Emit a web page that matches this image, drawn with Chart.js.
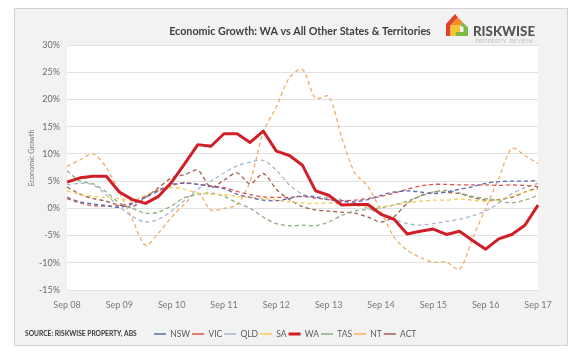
<!DOCTYPE html>
<html>
<head>
<meta charset="utf-8">
<script src="https://cdn.jsdelivr.net/npm/chart.js@4.4.1/dist/chart.umd.min.js"></script>
<style>
  html, body { margin: 0; padding: 0; background: #fff; }
  #wrap { width: 580px; height: 352px; }
</style>
</head>
<body>
<div id="wrap"><canvas id="chart" width="580" height="352"></canvas></div>
<script>
// quarterly, Sep 08 .. Sep 17
const QUARTERS = [
  'Sep 08','Dec 08','Mar 09','Jun 09','Sep 09','Dec 09','Mar 10','Jun 10',
  'Sep 10','Dec 10','Mar 11','Jun 11','Sep 11','Dec 11','Mar 12','Jun 12',
  'Sep 12','Dec 12','Mar 13','Jun 13','Sep 13','Dec 13','Mar 14','Jun 14',
  'Sep 14','Dec 14','Mar 15','Jun 15','Sep 15','Dec 15','Mar 16','Jun 16',
  'Sep 16','Dec 16','Mar 17','Jun 17','Sep 17'
];
const Y_MIN = -15, Y_MAX = 30, Y_STEP = 5;

const NSW = [2.0,1.2,0.8,0.5,0.2,0.8,2.0,3.2,4.4,4.6,4.4,4.0,3.6,2.6,2.0,1.5,1.4,1.8,2.3,2.0,1.6,1.3,1.2,1.6,2.4,3.0,3.2,3.0,2.7,3.0,3.5,4.0,4.6,4.9,5.0,5.0,5.1];
const VIC = [1.8,1.0,0.5,0.4,0.5,1.0,2.2,3.4,4.2,4.7,4.4,4.1,3.8,3.1,2.5,2.1,2.0,2.0,2.2,1.9,1.6,1.4,1.5,1.8,2.2,2.8,3.5,4.1,4.4,4.4,4.3,4.3,4.3,4.2,4.3,4.2,4.0];
const QLD = [4.3,4.6,4.3,2.5,0.3,-1.5,-2.5,-2.0,-0.5,1.5,3.5,5.0,6.5,7.8,8.5,8.8,7.0,4.3,2.6,2.2,2.0,1.6,1.0,0.0,-1.0,-2.0,-2.8,-3.1,-2.8,-2.4,-2.0,-1.4,-0.5,1.0,2.7,3.8,4.6];
const SA  = [3.2,2.5,2.2,2.0,1.8,1.4,2.4,3.2,3.8,3.5,2.8,2.6,2.5,2.2,2.0,1.8,1.5,1.2,1.0,0.9,1.0,0.8,0.5,0.3,0.3,0.6,1.0,1.3,1.5,1.5,1.7,1.5,1.3,1.5,2.2,3.0,3.5];
const WA  = [4.8,5.6,5.9,5.9,3.0,1.6,0.9,2.2,4.8,8.2,11.7,11.4,13.7,13.7,12.1,14.2,10.5,9.7,7.9,3.2,2.4,0.6,0.7,0.7,-1.1,-2.0,-4.7,-4.2,-3.8,-4.8,-4.2,-5.9,-7.5,-5.6,-4.8,-3.1,0.6];
const TAS = [6.9,5.0,4.5,3.0,1.0,0.0,-0.9,-0.7,0.5,2.0,2.6,2.8,2.2,1.0,0.0,-1.6,-2.8,-3.2,-3.1,-3.2,-2.5,-1.3,-0.5,-0.2,0.1,0.6,1.3,2.2,3.0,3.3,2.8,2.2,1.8,1.4,1.0,1.5,2.4];
const NT  = [7.7,8.9,10.0,7.5,3.0,-2.0,-6.8,-4.5,-1.6,0.8,2.8,-0.3,0.0,0.7,5.0,14.0,18.6,24.0,25.5,20.2,20.6,13.0,6.5,4.0,-0.5,-5.3,-7.7,-9.0,-9.9,-9.9,-11.2,-5.5,0.0,5.5,11.0,9.7,8.2];
const ACT = [3.9,2.6,1.8,1.3,0.6,0.3,2.0,3.8,5.6,6.2,7.0,3.9,5.2,6.5,4.5,6.4,3.5,1.6,0.3,-0.3,-0.5,-0.7,-0.9,-1.6,-2.5,-1.5,0.9,2.3,3.0,2.9,2.7,2.0,1.5,1.6,2.0,3.0,3.8];

const FONT = 'Lato, "Open Sans", sans-serif';
Chart.defaults.font.family = FONT;

function dashed(label, data, color) {
  return {
    label: label, data: data, borderColor: color, backgroundColor: color,
    borderWidth: 1.3, borderDash: [4, 3], pointRadius: 0, pointStyle: 'line',
    tension: 0.3, fill: false
  };
}

// fit a text to a target width
function fitFont(ctx, text, width, weight) {
  ctx.font = weight + ' 20px ' + FONT;
  const size = 20 * width / ctx.measureText(text).width;
  return weight + ' ' + size.toFixed(2) + 'px ' + FONT;
}

const framePlugin = {
  id: 'frame',
  beforeDraw(chart) {
    const { ctx, chartArea: a } = chart;
    ctx.save();
    ctx.fillStyle = '#fff';
    ctx.fillRect(0, 0, chart.width, chart.height);
    ctx.fillStyle = '#f2f2f2';
    ctx.fillRect(14, 8, 554, 338);
    ctx.strokeStyle = '#d2d2d2';
    ctx.lineWidth = 1;
    ctx.strokeRect(14.5, 8.5, 553, 337);
    ctx.fillStyle = '#fff';
    ctx.fillRect(a.left, a.top, a.right - a.left, a.bottom - a.top);
    ctx.restore();
  },
  afterLayout(chart) {
    // legend sits to the right of the source note
    const lg = chart.legend;
    const w = lg.right - lg.left, h = lg.bottom - lg.top;
    lg.left = 152; lg.right = 152 + w;
    lg.top = 327.75; lg.bottom = 327.75 + h;
  },
  afterDraw(chart) {
    const ctx = chart.ctx;
    ctx.save();
    ctx.textBaseline = 'middle';

    // title
    const title = 'Economic Growth: WA vs All Other States & Territories';
    ctx.font = fitFont(ctx, title, 262, '700');
    ctx.fillStyle = '#404040';
    ctx.textAlign = 'center';
    ctx.fillText(title, 300, 32);

    // y axis title
    ctx.save();
    ctx.translate(32, 158);
    ctx.rotate(-Math.PI / 2);
    ctx.font = fitFont(ctx, 'Economic Growth', 57, '400');
    ctx.fillStyle = '#7a7a7a';
    ctx.fillText('Economic Growth', 0, 0);
    ctx.restore();

    // source
    const src = 'SOURCE: RISKWISE PROPERTY, ABS';
    ctx.textAlign = 'left';
    ctx.font = fitFont(ctx, src, 112, '700');
    ctx.fillStyle = '#3a3a3a';
    ctx.fillText(src, 25, 334);

    // logo mark
    ctx.fillStyle = '#e2412a';
    ctx.beginPath();
    ctx.moveTo(446, 24); ctx.lineTo(455, 14); ctx.lineTo(458, 17.5);
    ctx.lineTo(450.5, 25.5); ctx.lineTo(450.5, 36); ctx.lineTo(446, 36);
    ctx.closePath(); ctx.fill();
    ctx.fillStyle = '#f28c28';
    ctx.beginPath();
    ctx.moveTo(450.5, 25.5); ctx.lineTo(458, 17.5); ctx.lineTo(463, 22.5);
    ctx.lineTo(460, 25.5); ctx.lineTo(450.5, 25.5);
    ctx.closePath(); ctx.fill();
    ctx.fillStyle = '#f7c531';
    ctx.fillRect(450.5, 25.5, 9.5, 10.5);
    ctx.fillStyle = '#7dba43';
    ctx.beginPath();
    ctx.moveTo(463, 22.5); ctx.lineTo(468, 27.5); ctx.lineTo(468, 36);
    ctx.lineTo(456, 36); ctx.lineTo(456, 32); ctx.lineTo(463.5, 32);
    ctx.lineTo(463.5, 27); ctx.lineTo(460, 25.5);
    ctx.closePath(); ctx.fill();

    ctx.font = fitFont(ctx, 'RISKWISE', 62, '900');
    ctx.fillStyle = '#555555';
    ctx.fillText('RISKWISE', 473, 32);
    ctx.font = fitFont(ctx, 'PROPERTY  REVIEW', 58, '400');
    ctx.fillStyle = '#c4c4c4';
    ctx.fillText('PROPERTY  REVIEW', 475, 40.5);
    ctx.restore();
  }
};

new Chart(document.getElementById('chart'), {
  type: 'line',
  data: {
    labels: QUARTERS,
    datasets: [
      dashed('NSW', NSW, '#5a6cb8'),
      dashed('VIC', VIC, '#e0504c'),
      dashed('QLD', QLD, '#a8b6cc'),
      dashed('SA', SA, '#f4cc5a'),
      {
        label: 'WA', data: WA, borderColor: '#d11f28', backgroundColor: '#d11f28',
        borderWidth: 3, pointRadius: 0, pointStyle: 'line', tension: 0, order: -1,
        borderJoinStyle: 'round'
      },
      dashed('TAS', TAS, '#8db07a'),
      dashed('NT', NT, '#f0ac6a'),
      dashed('ACT', ACT, '#9e5d4c')
    ]
  },
  options: {
    responsive: false,
    animation: false,
    devicePixelRatio: 1,
    events: [],
    layout: { padding: { top: 45, right: 42, bottom: 11.5, left: 0 } },
    scales: {
      x: {
        grid: { display: false, drawTicks: false },
        border: { display: false },
        ticks: {
          autoSkip: false, maxRotation: 0, minRotation: 0, padding: 10,
          color: '#7a7a7a', font: { size: 9 },
          callback: (v, i) => (i % 4 === 0 ? QUARTERS[i] : '')
        },
        afterFit: (s) => { s.height = 30; }
      },
      y: {
        min: Y_MIN, max: Y_MAX,
        grid: { color: '#e1e1e1', drawTicks: false },
        border: { display: false },
        ticks: {
          stepSize: Y_STEP, padding: 7, color: '#6b6b6b', font: { size: 9 },
          callback: (v) => v + '%'
        },
        afterFit: (s) => { s.width = 67; }
      }
    },
    plugins: {
      legend: {
        position: 'bottom',
        align: 'start',
        labels: {
          usePointStyle: true, pointStyle: 'line', pointStyleWidth: 12, boxHeight: 8.5,
          padding: 2, color: '#595959', font: { size: 8.5 },
          sort: (a, b) => a.datasetIndex - b.datasetIndex
        }
      },
      tooltip: { enabled: false }
    }
  },
  plugins: [framePlugin]
});
</script>
</body>
</html>
